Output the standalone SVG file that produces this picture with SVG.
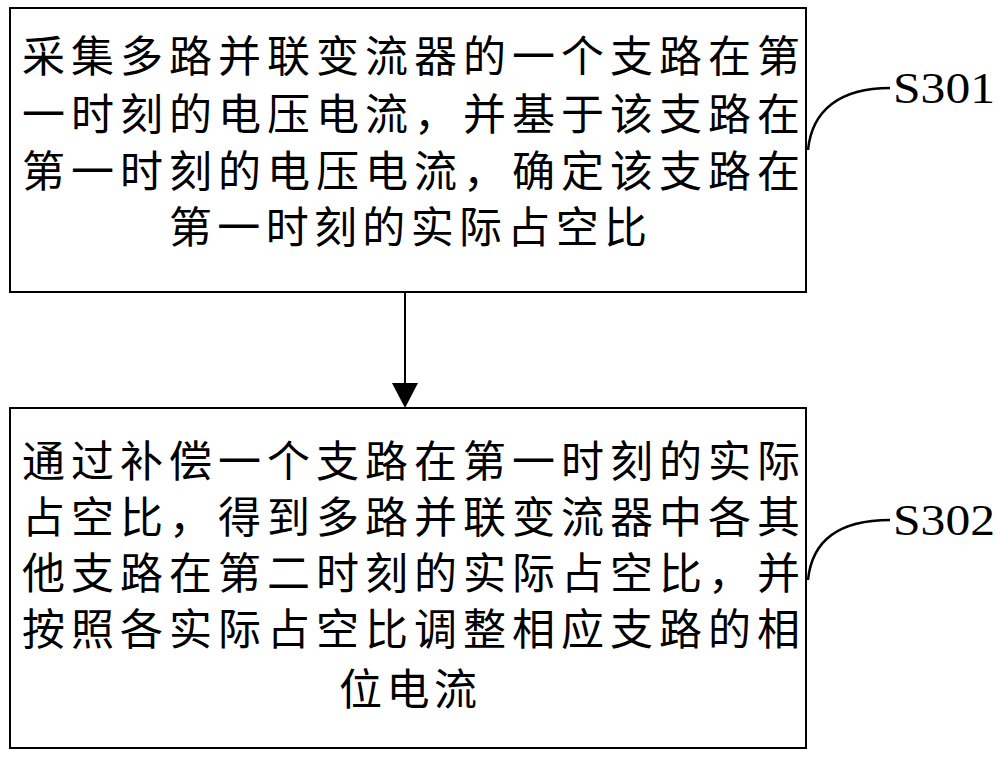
<svg xmlns="http://www.w3.org/2000/svg" width="1000" height="761" viewBox="0 0 1000 761">
<style>
.box{fill:#fff;stroke:#000;stroke-width:2}
.t{font-family:"Noto Sans CJK SC",sans-serif;font-size:43px;fill:#000}
.l{font-family:"Liberation Serif",serif;font-size:44px;fill:#000}
.c{fill:none;stroke:#000;stroke-width:2.5}
</style>
<rect width="1000" height="761" fill="#fff"/>
<g id="n1">
<rect class="box" x="10" y="8" width="796" height="284"/>
<text class="t" x="22" y="72" textLength="778" lengthAdjust="spacing">采集多路并联变流器的一个支路在第</text>
<text class="t" x="22" y="130" textLength="778" lengthAdjust="spacing">一时刻的电压电流，并基于该支路在</text>
<text class="t" x="22" y="187" textLength="778" lengthAdjust="spacing">第一时刻的电压电流，确定该支路在</text>
<text class="t" x="408" y="243" text-anchor="middle" textLength="478" lengthAdjust="spacing">第一时刻的实际占空比</text>
</g>
<g id="n2">
<rect class="box" x="10" y="408" width="796" height="340"/>
<text class="t" x="22" y="477" textLength="778" lengthAdjust="spacing">通过补偿一个支路在第一时刻的实际</text>
<text class="t" x="22" y="533" textLength="778" lengthAdjust="spacing">占空比，得到多路并联变流器中各其</text>
<text class="t" x="22" y="589" textLength="778" lengthAdjust="spacing">他支路在第二时刻的实际占空比，并</text>
<text class="t" x="22" y="645" textLength="778" lengthAdjust="spacing">按照各实际占空比调整相应支路的相</text>
<text class="t" x="408" y="705" text-anchor="middle" textLength="138" lengthAdjust="spacing">位电流</text>
</g>
<g id="s301"><text class="l" x="893" y="103" textLength="102" lengthAdjust="spacingAndGlyphs">S301</text></g>
<g id="s302"><text class="l" x="893" y="535" textLength="102" lengthAdjust="spacingAndGlyphs">S302</text></g>
<g id="connectors">
<line x1="405" y1="292" x2="405" y2="385" stroke="#000" stroke-width="2"/>
<path d="M392,383 L418,383 L405,408 Z"/>
<path class="c" d="M808,150 C812,110 840,88 890,88"/>
<path class="c" d="M808,580 C812,540 840,520 890,520"/>
</g>
</svg>
